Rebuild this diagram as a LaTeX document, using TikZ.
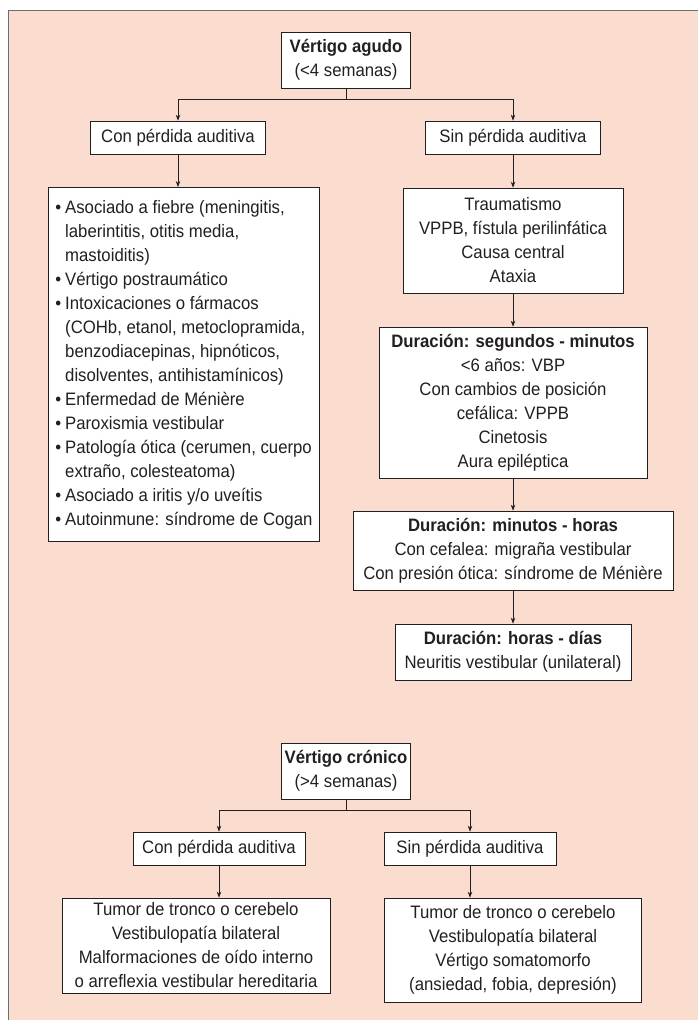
\documentclass[tikz,border=0pt]{standalone}
\usepackage{fontspec}
\setmainfont{Liberation Sans}[FakeStretch=0.93]
\usetikzlibrary{arrows.meta,shadows}
\definecolor{peach}{RGB}{250,221,206}
\definecolor{txt}{RGB}{35,31,32}
\definecolor{frame}{RGB}{110,110,110}
\tikzset{
  x=1pt,y=-1pt,
  box/.style={draw=txt, fill=white, line width=0.7pt, text=txt,
    font=\fontsize{18}{24}\selectfont, align=center, inner sep=0pt,
    general shadow={fill=black!45, shadow xshift=0.8pt, shadow yshift=-0.8pt}},
  conn/.style={draw=txt, line width=0.7pt},
  arr/.style={conn, -{Stealth[length=6pt,width=4.5pt]}},
}
\begin{document}
\begin{tikzpicture}
\useasboundingbox (0,0) rectangle (698,1020);
\fill[peach] (8,10) rectangle (698,1020);
\draw[frame, line width=0.8pt] (8,1020) -- (8,10) -- (698,10);

% acute
\node[box, minimum width=129, minimum height=56] (agudo) at (346,60)
  {\textbf{Vértigo agudo}\\(<4 semanas)};
\node[box, minimum width=175, minimum height=33] (con) at (178,137.5) {Con pérdida auditiva};
\node[box, minimum width=175, minimum height=33] (sin) at (513,137.5) {Sin pérdida auditiva};
\node[box, anchor=north west, minimum width=270, inner xsep=7pt, inner ysep=9pt, align=left] (lista) at (48,187)
  {\begin{tabular}{@{}l@{\hspace{4pt}}l@{}}
  • & Asociado a fiebre (meningitis,\\
    & laberintitis, otitis media,\\
    & mastoiditis)\\
  • & Vértigo postraumático\\
  • & Intoxicaciones o fármacos\\
    & (COHb, etanol, metoclopramida,\\
    & benzodiacepinas, hipnóticos,\\
    & disolventes, antihistamínicos)\\
  • & Enfermedad de Ménière\\
  • & Paroxismia vestibular\\
  • & Patología ótica (cerumen, cuerpo\\
    & extraño, colesteatoma)\\
  • & Asociado a iritis y/o uveítis\\
  • & Autoinmune: síndrome de Cogan
  \end{tabular}};
\node[box, minimum width=220, minimum height=105] (trauma) at (513,240.5)
  {Traumatismo\\VPPB, fístula perilinfática\\Causa central\\Ataxia};
\node[box, minimum width=268, minimum height=151] (seg) at (513,402.5)
  {\textbf{Duración: segundos - minutos}\\<6 años: VBP\\Con cambios de posición\\cefálica: VPPB\\Cinetosis\\Aura epiléptica};
\node[box, minimum width=320, minimum height=79] (minh) at (513,550.5)
  {\textbf{Duración: minutos - horas}\\Con cefalea: migraña vestibular\\Con presión ótica: síndrome de Ménière};
\node[box, minimum width=236, minimum height=56] (hdias) at (513,652)
  {\textbf{Duración: horas - días}\\Neuritis vestibular (unilateral)};

\coordinate (j1) at (346,99);
\draw[conn] (agudo.south) -- (j1);
\draw[arr] (j1) -| (con.north);
\draw[arr] (j1) -| (sin.north);
\draw[arr] (con.south) -- (con.south |- lista.north);
\draw[arr] (sin) -- (trauma);
\draw[arr] (trauma) -- (seg);
\draw[arr] (seg) -- (minh);
\draw[arr] (minh) -- (hdias);

% chronic
\node[box, minimum width=129, minimum height=56] (cronico) at (346,771)
  {\textbf{Vértigo crónico}\\(>4 semanas)};
\node[box, minimum width=172, minimum height=33] (con2) at (219,848.5) {Con pérdida auditiva};
\node[box, minimum width=172, minimum height=33] (sin2) at (470,848.5) {Sin pérdida auditiva};
\node[box, minimum width=268, minimum height=95] (tum1) at (196,945.5)
  {Tumor de tronco o cerebelo\\Vestibulopatía bilateral\\Malformaciones de oído interno\\o arreflexia vestibular hereditaria};
\node[box, minimum width=257, minimum height=104] (tum2) at (513,950)
  {Tumor de tronco o cerebelo\\Vestibulopatía bilateral\\Vértigo somatomorfo\\(ansiedad, fobia, depresión)};

\coordinate (j2) at (346,810);
\draw[conn] (cronico.south) -- (j2);
\draw[arr] (j2) -| (con2.north);
\draw[arr] (j2) -| (sin2.north);
\draw[arr] (con2.south) -- (con2.south |- tum1.north);
\draw[arr] (sin2.south) -- (sin2.south |- tum2.north);
\end{tikzpicture}
\end{document}
